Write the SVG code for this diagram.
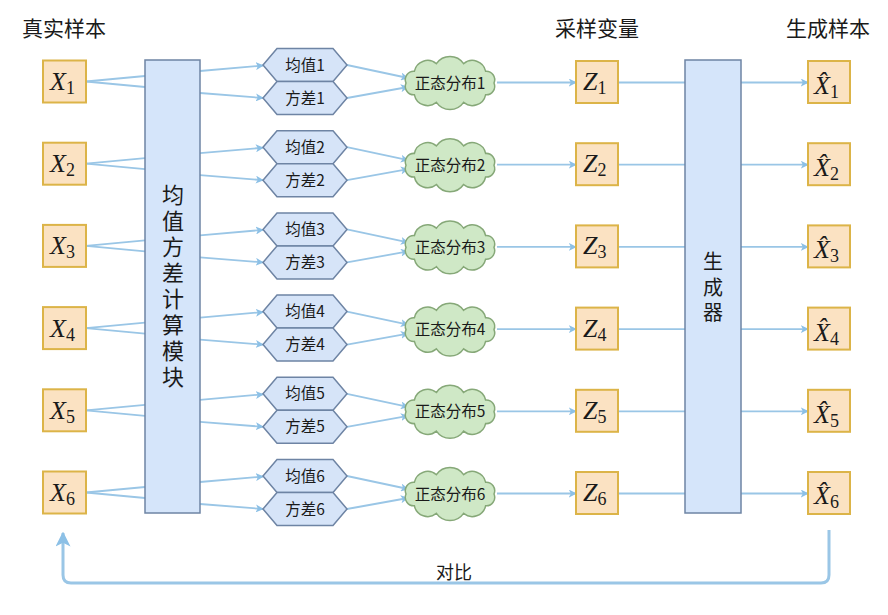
<svg xmlns="http://www.w3.org/2000/svg" width="888" height="615" viewBox="0 0 888 615">
<style>
.title{font-family:"Noto Sans CJK SC","Noto Sans",sans-serif;font-size:21px;fill:#1a1a1a}
.box{fill:#fbe2c2;stroke:#dcb448;stroke-width:2}
.mod{fill:#d5e5fa;stroke:#6e84a4;stroke-width:1.5}
.hex{fill:#d6e4f8;stroke:#6e84a4;stroke-width:1.5}
.cloud{fill:#cfe8c6;stroke:#86a878;stroke-width:1.5}
.lbl{font-family:"Noto Sans CJK SC","Noto Sans",sans-serif;font-size:15.5px;fill:#1a1a1a;text-anchor:middle}
.vt{font-family:"Noto Sans CJK SC","Noto Sans",sans-serif;font-size:22px;fill:#1a1a1a;text-anchor:middle;writing-mode:vertical-rl;letter-spacing:4px}
.vg{font-family:"Noto Sans CJK SC","Noto Sans",sans-serif;font-size:20px;fill:#1a1a1a;text-anchor:middle;writing-mode:vertical-rl;letter-spacing:5.5px}
.math{font-family:"Liberation Serif",serif;font-size:26px;fill:#1a1a1a}
.mi{font-style:italic}
.sub{font-size:18px}
.ln{stroke:#9ac6e6;stroke-width:1.8;fill:none}
.la{stroke:#9ac6e6;stroke-width:1.8;fill:none;marker-end:url(#ah)}
.fb{stroke:#9ac6e6;stroke-width:3;fill:none;marker-end:url(#ahb)}
</style>
<defs>
<marker id="ah" viewBox="0 0 10 10" refX="9" refY="5" markerWidth="8" markerHeight="8" orient="auto" markerUnits="userSpaceOnUse">
<path d="M0,0 L10,5 L0,10 L2.5,5 Z" fill="#8cc0e6"/>
</marker>
<marker id="ahb" viewBox="0 0 10 10" refX="9" refY="5" markerWidth="5" markerHeight="5" orient="auto">
<path d="M0,0 L10,5 L0,10 L2.5,5 Z" fill="#8cc0e6"/>
</marker>
<path id="hexshape" d="M-42,0 L-28,-16.5 L28,-16.5 L42,0 L28,16.5 L-28,16.5 Z"/>
<path id="cloudshape" d="M44,0 A8.5,8.5 0 0 1 35.6,11.8 A13.5,13.5 0 0 1 13.6,19.3 A16.5,16.5 0 0 1 -13.6,19.3 A13.5,13.5 0 0 1 -35.6,11.8 A8.5,8.5 0 0 1 -44,0 A8.5,8.5 0 0 1 -35.6,-11.8 A13.5,13.5 0 0 1 -13.6,-19.3 A16.5,16.5 0 0 1 13.6,-19.3 A13.5,13.5 0 0 1 35.6,-11.8 A8.5,8.5 0 0 1 44,0 Z"/>
<g id="rowlines">
<line class="ln" x1="86" y1="81.5" x2="145" y2="76"/>
<line class="ln" x1="86" y1="81.5" x2="145" y2="87"/>
<line class="la" x1="200" y1="71" x2="263" y2="65.5"/>
<line class="la" x1="200" y1="93" x2="263" y2="98"/>
<line class="la" x1="347" y1="65" x2="408" y2="78"/>
<line class="la" x1="347" y1="98" x2="408" y2="87"/>
<line class="la" x1="497" y1="82.5" x2="576" y2="82.5"/>
<line class="ln" x1="618" y1="82.5" x2="685" y2="82.5"/>
<line class="la" x1="741" y1="82.5" x2="808" y2="82.5"/>
</g>
</defs>
<rect width="888" height="615" fill="#ffffff"/>

<text class="title" x="22" y="36">真实样本</text>
<text class="title" x="555" y="36">采样变量</text>
<text class="title" x="786" y="36">生成样本</text>

<g id="connectors">
<use href="#rowlines"/>
<use href="#rowlines" y="82.2"/>
<use href="#rowlines" y="164.4"/>
<use href="#rowlines" y="246.6"/>
<use href="#rowlines" y="328.8"/>
<use href="#rowlines" y="411"/>
<path class="fb" d="M829,530 L829,575 Q829,583 821,583 L71,583 Q63,583 63,575 L63,533"/>
<text class="lbl" x="454" y="579" style="font-size:18px">对比</text>
</g>

<g id="module"><rect class="mod" x="145" y="60" width="55" height="453"/>
<text class="vt" x="173" y="288">均值方差计算模块</text>
</g>
<g id="generator"><rect class="mod" x="685" y="60" width="56" height="453"/>
<text class="vg" x="713" y="290">生成器</text>
</g>

<g id="X1"><rect class="box" x="43" y="60.5" width="43" height="42"/><text class="math" x="50" y="90"><tspan class="mi">X</tspan><tspan class="sub" dy="4">1</tspan></text></g>
<g id="X2"><rect class="box" x="43" y="142.7" width="43" height="42"/><text class="math" x="50" y="172.2"><tspan class="mi">X</tspan><tspan class="sub" dy="4">2</tspan></text></g>
<g id="X3"><rect class="box" x="43" y="224.9" width="43" height="42"/><text class="math" x="50" y="254.4"><tspan class="mi">X</tspan><tspan class="sub" dy="4">3</tspan></text></g>
<g id="X4"><rect class="box" x="43" y="307.1" width="43" height="42"/><text class="math" x="50" y="336.6"><tspan class="mi">X</tspan><tspan class="sub" dy="4">4</tspan></text></g>
<g id="X5"><rect class="box" x="43" y="389.3" width="43" height="42"/><text class="math" x="50" y="418.8"><tspan class="mi">X</tspan><tspan class="sub" dy="4">5</tspan></text></g>
<g id="X6"><rect class="box" x="43" y="471.5" width="43" height="42"/><text class="math" x="50" y="501"><tspan class="mi">X</tspan><tspan class="sub" dy="4">6</tspan></text></g>

<g id="mean1"><use href="#hexshape" class="hex" x="305" y="65"/><text class="lbl" x="305" y="70.5">均值1</text></g>
<g id="var1"><use href="#hexshape" class="hex" x="305" y="98"/><text class="lbl" x="305" y="103.5">方差1</text></g>
<g id="mean2"><use href="#hexshape" class="hex" x="305" y="147.2"/><text class="lbl" x="305" y="152.7">均值2</text></g>
<g id="var2"><use href="#hexshape" class="hex" x="305" y="180.2"/><text class="lbl" x="305" y="185.7">方差2</text></g>
<g id="mean3"><use href="#hexshape" class="hex" x="305" y="229.4"/><text class="lbl" x="305" y="234.9">均值3</text></g>
<g id="var3"><use href="#hexshape" class="hex" x="305" y="262.4"/><text class="lbl" x="305" y="267.9">方差3</text></g>
<g id="mean4"><use href="#hexshape" class="hex" x="305" y="311.6"/><text class="lbl" x="305" y="317.1">均值4</text></g>
<g id="var4"><use href="#hexshape" class="hex" x="305" y="344.6"/><text class="lbl" x="305" y="350.1">方差4</text></g>
<g id="mean5"><use href="#hexshape" class="hex" x="305" y="393.8"/><text class="lbl" x="305" y="399.3">均值5</text></g>
<g id="var5"><use href="#hexshape" class="hex" x="305" y="426.8"/><text class="lbl" x="305" y="432.3">方差5</text></g>
<g id="mean6"><use href="#hexshape" class="hex" x="305" y="476"/><text class="lbl" x="305" y="481.5">均值6</text></g>
<g id="var6"><use href="#hexshape" class="hex" x="305" y="509"/><text class="lbl" x="305" y="514.5">方差6</text></g>

<g id="N1"><use href="#cloudshape" class="cloud" x="450" y="83"/><text class="lbl" x="450" y="88.5">正态分布1</text></g>
<g id="N2"><use href="#cloudshape" class="cloud" x="450" y="165.2"/><text class="lbl" x="450" y="170.7">正态分布2</text></g>
<g id="N3"><use href="#cloudshape" class="cloud" x="450" y="247.4"/><text class="lbl" x="450" y="252.9">正态分布3</text></g>
<g id="N4"><use href="#cloudshape" class="cloud" x="450" y="329.6"/><text class="lbl" x="450" y="335.1">正态分布4</text></g>
<g id="N5"><use href="#cloudshape" class="cloud" x="450" y="411.8"/><text class="lbl" x="450" y="417.3">正态分布5</text></g>
<g id="N6"><use href="#cloudshape" class="cloud" x="450" y="494"/><text class="lbl" x="450" y="499.5">正态分布6</text></g>

<g id="Z1"><rect class="box" x="576" y="61" width="42" height="42"/><text class="math" x="583" y="90"><tspan class="mi">Z</tspan><tspan class="sub" dy="4">1</tspan></text></g>
<g id="Z2"><rect class="box" x="576" y="143.2" width="42" height="42"/><text class="math" x="583" y="172.2"><tspan class="mi">Z</tspan><tspan class="sub" dy="4">2</tspan></text></g>
<g id="Z3"><rect class="box" x="576" y="225.4" width="42" height="42"/><text class="math" x="583" y="254.4"><tspan class="mi">Z</tspan><tspan class="sub" dy="4">3</tspan></text></g>
<g id="Z4"><rect class="box" x="576" y="307.6" width="42" height="42"/><text class="math" x="583" y="336.6"><tspan class="mi">Z</tspan><tspan class="sub" dy="4">4</tspan></text></g>
<g id="Z5"><rect class="box" x="576" y="389.8" width="42" height="42"/><text class="math" x="583" y="418.8"><tspan class="mi">Z</tspan><tspan class="sub" dy="4">5</tspan></text></g>
<g id="Z6"><rect class="box" x="576" y="472" width="42" height="42"/><text class="math" x="583" y="501"><tspan class="mi">Z</tspan><tspan class="sub" dy="4">6</tspan></text></g>

<g id="Xh1"><rect class="box" x="808" y="61" width="42" height="42"/><text class="math" x="814" y="94"><tspan class="mi">X̂</tspan><tspan class="sub" dy="4">1</tspan></text></g>
<g id="Xh2"><rect class="box" x="808" y="143.2" width="42" height="42"/><text class="math" x="814" y="176.2"><tspan class="mi">X̂</tspan><tspan class="sub" dy="4">2</tspan></text></g>
<g id="Xh3"><rect class="box" x="808" y="225.4" width="42" height="42"/><text class="math" x="814" y="258.4"><tspan class="mi">X̂</tspan><tspan class="sub" dy="4">3</tspan></text></g>
<g id="Xh4"><rect class="box" x="808" y="307.6" width="42" height="42"/><text class="math" x="814" y="340.6"><tspan class="mi">X̂</tspan><tspan class="sub" dy="4">4</tspan></text></g>
<g id="Xh5"><rect class="box" x="808" y="389.8" width="42" height="42"/><text class="math" x="814" y="422.8"><tspan class="mi">X̂</tspan><tspan class="sub" dy="4">5</tspan></text></g>
<g id="Xh6"><rect class="box" x="808" y="472" width="42" height="42"/><text class="math" x="814" y="504"><tspan class="mi">X̂</tspan><tspan class="sub" dy="4">6</tspan></text></g>
</svg>
